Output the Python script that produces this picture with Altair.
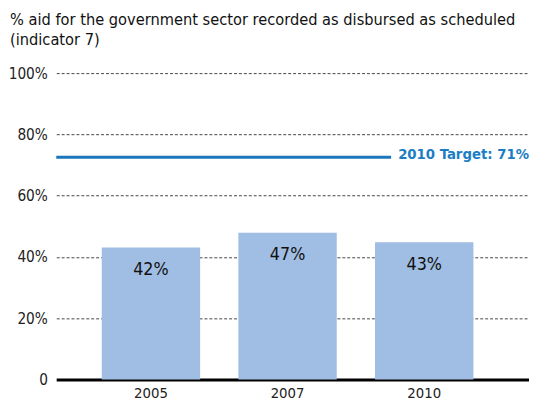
import altair as alt
import pandas as pd

years = ["2005", "2007", "2010"]
values = [43.1, 47.9, 44.8]
labels = ["42%", "47%", "43%"]
target_value = [72.5]
target_label = ["2010 Target: 71%"]
title_lines = ["% aid for the government sector recorded as disbursed as scheduled", "(indicator 7)"]

FONT = "'DejaVu Sans Condensed', Roboto, sans-serif"

df = pd.DataFrame({"year": years, "value": values, "label": labels})
tdf = pd.DataFrame({"t": target_value, "tl": target_label})

yscale = alt.Scale(domain=[0, 100], nice=False)
xscale = alt.Scale(paddingInner=0.28, paddingOuter=0.37, align=0.45)

bars = alt.Chart(df).mark_bar(color="#a0bde3").encode(
    x=alt.X("year:N", scale=xscale, sort=years,
            axis=alt.Axis(title=None, labelAngle=0, ticks=False, domainColor="#000000",
                          domainWidth=3, labelFontSize=15, labelColor="#222222",
                          labelFont=FONT, labelPadding=6)),
    y=alt.Y("value:Q", scale=yscale,
            axis=alt.Axis(title=None, values=list(range(0, 101, 10)),
                          labelExpr="datum.value == 0 ? '0' : (datum.value % 20 == 0 ? datum.value + '%' : '')",
                          ticks=False, domain=False, grid=True, gridColor="#444444",
                          gridDash=[3, 2], gridWidth=1, labelFontSize=15.5,
                          labelColor="#222222", labelFont=FONT, labelPadding=9)),
)

text = alt.Chart(df).mark_text(baseline="middle", dy=23, fontSize=18, font=FONT, color="#111111").encode(
    x=alt.X("year:N", sort=years, scale=xscale),
    y=alt.Y("value:Q", scale=yscale),
    text="label:N",
)

rule = alt.Chart(tdf).mark_rule(color="#1b76bc", strokeWidth=3).encode(
    y=alt.Y("t:Q", scale=yscale),
    x=alt.value(0),
    x2=alt.value(340),
)

ttext = alt.Chart(tdf).mark_text(align="right", baseline="middle", fontSize=15, fontWeight="bold",
                                 font=FONT, color="#1b7ec4", dy=-3).encode(
    y=alt.Y("t:Q", scale=yscale),
    x=alt.value(480),
    text="tl:N",
)

chart = alt.layer(bars, text, rule, ttext).properties(
    width=480, height=311,
    autosize="none",
    padding={"left": 49, "top": 63, "right": 0, "bottom": 32},
    title=alt.TitleParams(text=title_lines, anchor="start", frame="group", dx=-47, fontSize=16.5,
                          font=FONT, fontWeight="normal", color="#111111", offset=18,
                          lineHeight=20),
).configure_view(stroke=None)

chart.save("out.html", embed_options={"renderer": "svg", "actions": False})
